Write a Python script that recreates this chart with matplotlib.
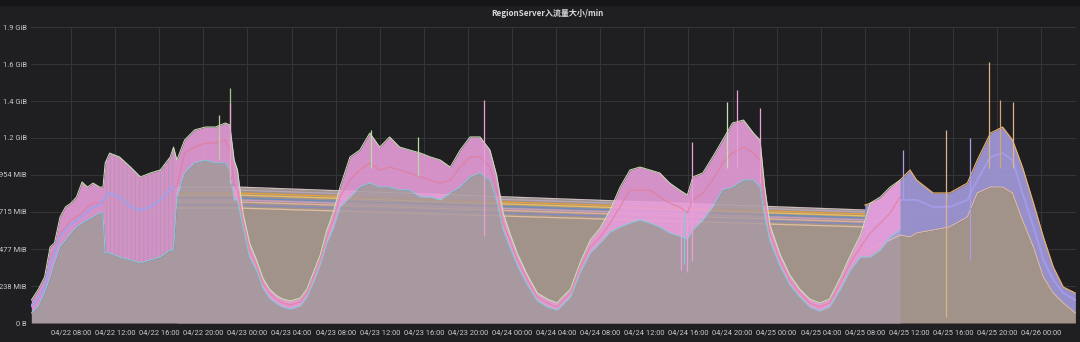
import matplotlib
matplotlib.use("Agg")
import matplotlib.pyplot as plt
from matplotlib.patches import Rectangle

# ---------------- data (values in MiB, time in hours since 04/22 00:00) ----------------
a_hours = [4.4, 5.0, 5.6, 6.1, 6.5, 7.0, 7.5, 8.0, 8.5, 9.0, 9.5, 10.0, 10.6, 10.9,
           11.1, 11.5, 12.4, 13.4, 14.3, 15.2, 16.1, 17.0, 17.3, 17.6, 18.3, 19.2,
           20.2, 21.1, 22.0, 22.4, 22.8, 23.1, 23.6, 24.2, 24.9, 25.4, 26.0, 26.7,
           27.2, 27.9, 28.8, 29.4, 30.0, 30.6, 31.2, 31.8, 32.4, 33.3, 34.2, 35.1,
           36.0, 36.9, 37.8, 38.7, 39.7, 40.6, 41.5, 42.4, 43.3, 44.2, 45.1, 46.0,
           46.6, 47.2, 47.8, 48.5, 49.4, 50.3, 51.2, 52.1, 52.4, 53.3, 54.2, 55.1,
           56.0, 56.9, 57.8, 58.7, 59.6, 60.5, 61.4, 62.3, 63.2, 63.9, 64.4, 65.3,
           66.2, 67.1, 68.0, 69.0, 69.9, 70.5, 70.9, 71.4, 72.3, 73.2, 74.1, 75.0,
           75.9, 76.8, 77.8, 78.7, 79.6, 80.5, 81.4, 82.3, 83.2]
a_top = [148, 213, 296, 490, 516, 683, 748, 773, 812, 909, 876, 902, 876, 876,
         1031, 1095, 1070, 1005, 941, 967, 986, 1070, 1134, 1050, 1179, 1244,
         1263, 1263, 1289, 1276, 1050, 986, 709, 516, 393, 290, 219, 174,
         155, 142, 161, 219, 329, 438, 599, 715, 876, 1070, 1115, 1224,
         1134, 1199, 1134, 1115, 1095, 1070, 1050, 1005, 1115, 1199, 1199, 1115,
         954, 709, 580, 445, 309, 193, 155, 129, 155, 219, 393, 535,
         612, 728, 876, 986, 1005, 986, 967, 902, 857, 825, 941, 967,
         1070, 1179, 1289, 1308, 1224, 1179, 889, 632, 445, 309, 219, 155,
         129, 155, 296, 438, 567, 773, 812, 876, 921]
a_mid = [116, 168, 232, 406, 470, 580, 619, 664, 683, 709, 748, 773, 773, 773,
         812, 838, 812, 748, 728, 748, 793, 857, 876, 876, 1095, 1134,
         1160, 1160, 1179, 1115, 889, 857, 664, 470, 361, 258, 193, 148,
         129, 116, 135, 193, 296, 406, 554, 664, 812, 921, 986, 1031,
         986, 1005, 986, 967, 941, 921, 902, 921, 1005, 1070, 1070, 1005,
         857, 644, 535, 406, 277, 168, 129, 103, 129, 193, 361, 490,
         554, 644, 748, 857, 857, 857, 812, 773, 748, 709, 793, 838,
         921, 1031, 1095, 1134, 1095, 1050, 793, 580, 406, 277, 193, 129,
         103, 129, 258, 387, 490, 580, 644, 709, 812]
a_low = [64, 103, 193, 296, 387, 490, 535, 580, 619, 644, 664, 683, 709, 709,
         451, 451, 425, 406, 387, 406, 425, 470, 470, 812, 967, 1031,
         1050, 1031, 1031, 986, 793, 793, 619, 425, 329, 226, 161, 122,
         103, 90, 110, 168, 264, 374, 516, 612, 748, 812, 876, 902,
         876, 876, 857, 857, 812, 812, 793, 838, 876, 941, 967, 921,
         793, 599, 490, 367, 245, 142, 103, 84, 103, 168, 329, 451,
         516, 586, 619, 644, 664, 644, 619, 580, 560, 540, 599, 664,
         748, 857, 876, 921, 921, 876, 696, 528, 367, 245, 168, 103,
         77, 103, 219, 342, 425, 425, 470, 554, 599]

# lavender mean line visible in the early morning block
lav_hours = [4.4, 5.0, 5.6, 6.1, 6.5, 7.0, 7.5, 8.0, 8.5, 9.0, 9.5, 10.0, 10.6,
             11.1, 11.5, 12.4, 13.4, 14.3, 15.2, 16.1, 17.0, 17.3]
lav_vals = [110, 160, 225, 390, 450, 560, 600, 640, 660, 690, 720, 745, 760,
            812, 838, 812, 748, 728, 748, 793, 857, 876]

b_hours = [80.0, 81.4, 83.2, 84.1, 84.7, 86.2, 87.7, 89.3, 90.2, 91.4, 92.5,
           93.4, 94.3, 95.3, 96.2, 97.1, 98.0, 99.1]
b_top = [760, 793, 921, 986, 921, 838, 838, 902, 1050, 1224, 1263,
         1179, 1005, 773, 554, 361, 232, 193]
b_mid = [632, 664, 793, 793, 793, 748, 748, 793, 921, 1070, 1095,
         1050, 838, 619, 406, 277, 193, 148]
b_low = [470, 503, 567, 554, 580, 599, 619, 683, 838, 876, 876,
         838, 664, 490, 296, 193, 129, 64]

# series whose gap (no data) is bridged by a straight line
gap_hours = [17.6, 23.1, 80.0]
gap_start = [876, 857, 838, 825, 805, 793, 780, 760, 741]
gap_end = [728, 715, 702, 690, 677, 664, 651, 638, 619]
gap_colors = ["#dccacc", "#b9a9c6", "#eaa23a", "#f1c45c", "#6a8cc0",
              "#c9a0d0", "#e7b5a0", "#8289c9", "#e6c2a0"]

# isolated spikes (hour, low, high)
spike_hours = [21.4, 22.4, 22.45, 35.2, 39.5, 45.5, 63.3, 63.6, 63.9, 64.3,
               67.5, 68.4, 70.5, 83.5, 87.4, 89.5, 91.3, 92.3, 93.4]
spike_low = [1050, 900, 900, 1000, 950, 560, 340, 380, 330, 400,
             1000, 1000, 900, 800, 39, 406, 1000, 1000, 1000]
spike_high = [1340, 1514, 1418, 1244, 1199, 1437, 700, 720, 690, 1166,
              1424, 1501, 1385, 1115, 1244, 1192, 1682, 1437, 1424]
spike_colors = ["#b8d0a4", "#9fc78a", "#ea9fd8", "#b6dca0", "#b6dca0", "#ea9fd8",
                "#ea9fd8", "#7fcfd8", "#ea9fd8", "#ea9fd8",
                "#c5e0b0", "#ea9fd8", "#ea9fd8",
                "#aa9ee2", "#dcb48c", "#aa9ee2", "#d9b380", "#d4a474", "#dcb48c"]

y_ticks = [0, 238.4, 476.8, 715.3, 953.7, 1192.1, 1430.5, 1668.9, 1907.3]
y_tick_labels = ["0 B", "238 MiB", "477 MiB", "715 MiB", "954 MiB",
                 "1.2 GiB", "1.4 GiB", "1.6 GiB", "1.9 GiB"]
x_tick_hours = [8, 12, 16, 20, 24, 28, 32, 36, 40, 44, 48, 52, 56, 60, 64, 68,
                72, 76, 80, 84, 88, 92, 96]
x_tick_labels = ["04/22 08:00", "04/22 12:00", "04/22 16:00", "04/22 20:00",
                 "04/23 00:00", "04/23 04:00", "04/23 08:00", "04/23 12:00",
                 "04/23 16:00", "04/23 20:00", "04/24 00:00", "04/24 04:00",
                 "04/24 08:00", "04/24 12:00", "04/24 16:00", "04/24 20:00",
                 "04/25 00:00", "04/25 04:00", "04/25 08:00", "04/25 12:00",
                 "04/25 16:00", "04/25 20:00", "04/26 00:00"]
title = "RegionServer入流量大小/min"

# ---------------- figure ----------------
plt.rcParams["hatch.linewidth"] = 0.8
BG = "#1f1f21"
fig = plt.figure(figsize=(10.8, 3.42), dpi=100, facecolor=BG)
fig.patches.append(Rectangle((0, 1 - 5 / 342), 1, 5 / 342, transform=fig.transFigure,
                             color="#151517", zorder=0))
ax = fig.add_axes([31 / 1080, 19 / 342, 1045 / 1080, 296 / 342])
ax.set_facecolor(BG)
ax.set_xlim(4.372, 99.156)
ax.set_ylim(0, 1907.35)

# B series: brown fill under bridged lines and right-hand block
bf_h = gap_hours + b_hours
bf_v = [max(gap_start), max(gap_start), max(gap_end)] + b_low
ax.fill_between(bf_h, 0, bf_v, color="#a19389", lw=0, zorder=1)
for s, e, c in zip(gap_start, gap_end, gap_colors):
    ax.plot(gap_hours, [s, s, e], color=c, lw=0.9, alpha=0.9, zorder=2)

# A series: mauve fill
ax.fill_between(a_hours, 0, a_low, color="#a8989f", lw=0, zorder=3)
for s, e, c in zip(gap_start, gap_end, gap_colors):
    ax.plot(gap_hours, [s, s, e], color=c, lw=0.8, alpha=0.22, zorder=3.5)

# B right band
ax.fill_between(b_hours, b_low, b_top, color="#a99fe2", alpha=0.88, lw=0, zorder=4)
ax.plot(b_hours, b_top, color="#f0b468", lw=0.8, zorder=4.2)
ax.plot(b_hours, b_mid, color="#a39ae8", lw=1.4, zorder=4.2)
ax.plot(b_hours, b_low, color="#e8c0a0", lw=0.7, zorder=4.2)

# A band
ax.fill_between(a_hours, a_low, a_top, color="#e89edb", alpha=0.9, lw=0, zorder=5)
# striped look of the oscillating block 04/22 11:00-17:00
blk = slice(14, 23)
ax.fill_between(a_hours[blk], a_low[blk], a_top[blk], facecolor="none",
                edgecolor="#b995b2", hatch="||||", lw=0, zorder=5.05)
ax.plot(a_hours, a_top, color="#c8e6b4", lw=0.7, zorder=5.1)
ax.plot(a_hours, a_low, color="#79cfd9", lw=0.7, zorder=5.1)
ax.plot(a_hours, a_mid, color="#e4788e", lw=1.0, alpha=0.6, zorder=5.2)
ax.plot(lav_hours, lav_vals, color="#a49fe6", lw=1.6, zorder=5.3)

ax.vlines(spike_hours, spike_low, spike_high, colors=spike_colors, lw=0.9, zorder=6)

# axes styling
ax.set_xticks(x_tick_hours)
ax.set_xticklabels(x_tick_labels)
ax.set_yticks(y_ticks)
ax.set_yticklabels(y_tick_labels)
ax.grid(True, color="#363639", lw=0.7, zorder=0.5)
ax.set_axisbelow(True)
for sp in ax.spines.values():
    sp.set_visible(False)
ax.tick_params(axis="both", length=0, colors="#c9cacc", labelsize=5.4)
ax.tick_params(axis="x", pad=5.0)
ax.tick_params(axis="y", pad=3.0)
for lab in ax.get_xticklabels() + ax.get_yticklabels():
    lab.set_family(["Roboto", "DejaVu Sans"])

fig.text(547 / 1080, 1 - 13.5 / 342, title, ha="center", va="center",
         fontsize=5.8, color="#d8d9da", fontweight="bold",
         family=["Noto Sans CJK SC", "DejaVu Sans"])

fig.savefig("out.png", dpi=100, facecolor=BG)
